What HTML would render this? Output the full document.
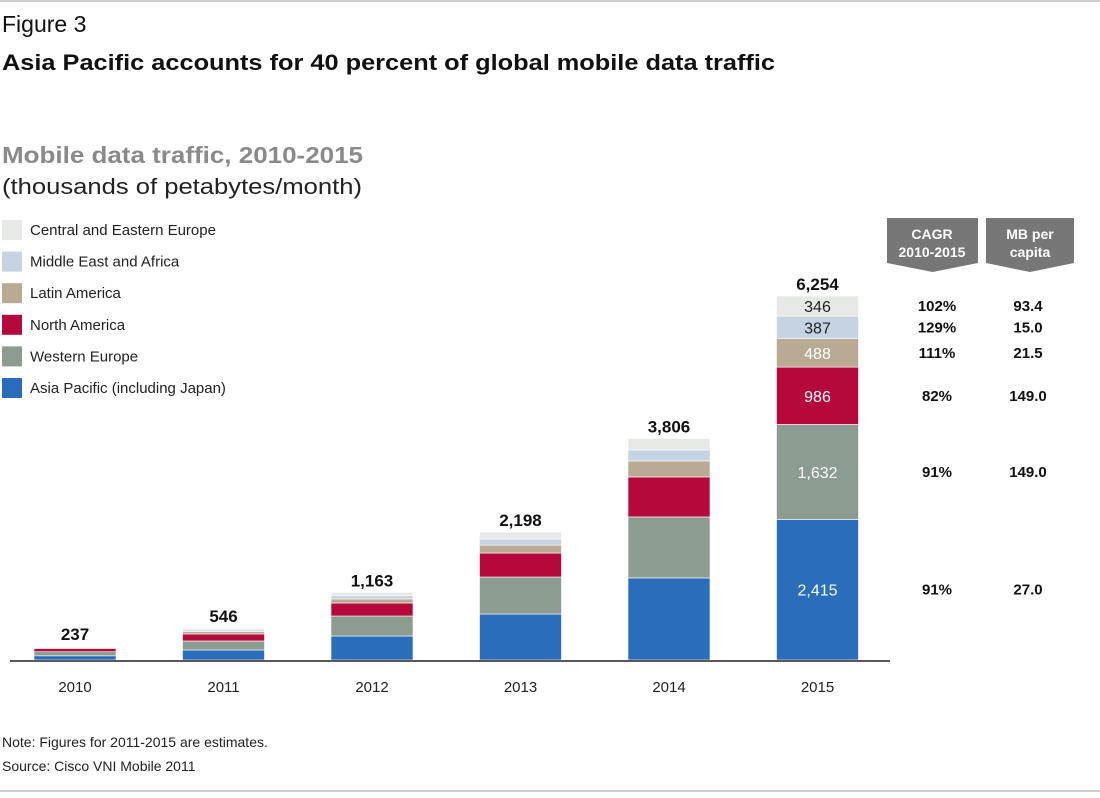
<!DOCTYPE html>
<html><head><meta charset="utf-8"><style>
body{margin:0;background:#fff;width:1100px;height:793px;overflow:hidden;font-family:"Liberation Sans",sans-serif}
</style></head><body>
<svg width="1100" height="793" id="svg" font-family="Liberation Sans, sans-serif">
<line x1="0" y1="1" x2="1100" y2="1" stroke="#999"/>
<line x1="0" y1="791" x2="1100" y2="791" stroke="#999"/>
<text x="2" y="32" font-size="23" fill="#111">Figure 3</text>
<text x="2" y="70" font-size="22" font-weight="bold" fill="#111" textLength="773" lengthAdjust="spacingAndGlyphs">Asia Pacific accounts for 40 percent of global mobile data traffic</text>
<text x="2" y="163" font-size="23" font-weight="bold" fill="#8a8a8a" textLength="361" lengthAdjust="spacingAndGlyphs">Mobile data traffic, 2010-2015</text>
<text x="2" y="194" font-size="22" fill="#222" textLength="360" lengthAdjust="spacingAndGlyphs">(thousands of petabytes/month)</text>
<g id="legend"></g>
<g id="bars"></g>
<line x1="10" y1="661" x2="890" y2="661" stroke="#222" stroke-width="1.5"/>
<g id="xt"></g>
<polygon points="887,218 978,218 978,263 932.5,272 887,263" fill="#777"/>
<text x="932" y="239" font-size="14" font-weight="bold" fill="#fff" text-anchor="middle">CAGR</text>
<text x="932" y="257" font-size="14" font-weight="bold" fill="#fff" text-anchor="middle">2010-2015</text>
<polygon points="986,218 1074,218 1074,263 1030,272 986,263" fill="#777"/>
<text x="1030" y="239" font-size="14" font-weight="bold" fill="#fff" text-anchor="middle">MB per</text>
<text x="1030" y="257" font-size="14" font-weight="bold" fill="#fff" text-anchor="middle">capita</text>
<g id="tbl"></g>
<text x="2" y="747" font-size="14" fill="#222">Note: Figures for 2011-2015 are estimates.</text>
<text x="2" y="771" font-size="14" fill="#222">Source: Cisco VNI Mobile 2011</text>
</svg>
<script>
const years=["2010","2011","2012","2013","2014","2015"];
const regions=["Asia Pacific (including Japan)","Western Europe","North America","Latin America","Middle East and Africa","Central and Eastern Europe"];
const asia=[72,172,412,790,1410,2415];
const weur=[70,155,344,636,1048,1632];
const nam=[55,120,223,412,687,986];
const lat=[15,40,70,137,275,488];
const mea=[12,30,55,103,189,387];
const cee=[13,29,59,120,197,346];
const totals=["237","546","1,163","2,198","3,806","6,254"];
const cagr=["91%","91%","82%","111%","129%","102%"];
const mbcap=["27.0","149.0","149.0","21.5","15.0","93.4"];
const series=[asia,weur,nam,lat,mea,cee];
const colors=["#2a6ebb","#8c9c91","#b5093b","#b9ab93","#c5d3e2","#e6e9e6"];
const NS="http://www.w3.org/2000/svg";
const base=660,k=364/6254,bw=82;
const y=v=>base-v*k;
const xc=i=>75+i*148.5;
function mk(tag,at,parent,txt){const e=document.createElementNS(NS,tag);for(const a in at)e.setAttribute(a,at[a]);if(txt!=null)e.textContent=txt;parent.appendChild(e);return e;}
const bars=document.getElementById('bars');
years.forEach((yr,i)=>{
 let cum=0;
 series.forEach((s,j)=>{
  const r=mk('rect',{x:xc(i)-bw/2,y:y(cum+s[i]),width:bw,height:s[i]*k,fill:colors[j],stroke:'#fff','stroke-width':0.6},bars);
  
  
  if(i===5){const t=mk('text',{x:xc(i),y:y(cum+s[i]/2)+6,'font-size':16,'text-anchor':'middle',fill:(j<4?'#fff':'#222')},bars,s[i].toLocaleString('en-US'));
   
   }
  cum+=s[i];
 });
 const t=mk('text',{x:xc(i),y:y(cum)-6,'font-size':17,'font-weight':'bold','text-anchor':'middle',fill:'#111'},bars,totals[i]);
 
 
 const xt=mk('text',{x:xc(i),y:692,'font-size':15,'text-anchor':'middle',fill:'#222'},document.getElementById('xt'),yr);
 
 
});
const lg=document.getElementById('legend');
regions.forEach((r,j)=>{
 const yy=388-j*31.6;
 const sw=mk('rect',{x:2,y:yy-10,width:20,height:20,fill:colors[j]},lg);
 
 
 const t=mk('text',{x:30,y:yy+5,'font-size':15,fill:'#222'},lg,r);
 
 
});
const tb=document.getElementById('tbl');
let cum=0;
series.forEach((s,j)=>{
 const yy=y(cum+s[5]/2)+5; cum+=s[5];
 const a=mk('text',{x:937,y:yy,'font-size':15,'font-weight':'bold','text-anchor':'middle',fill:'#111'},tb,cagr[j]);
 
 
 const b=mk('text',{x:1028,y:yy,'font-size':15,'font-weight':'bold','text-anchor':'middle',fill:'#111'},tb,mbcap[j]);
 
 
});
</script>
</body></html>
